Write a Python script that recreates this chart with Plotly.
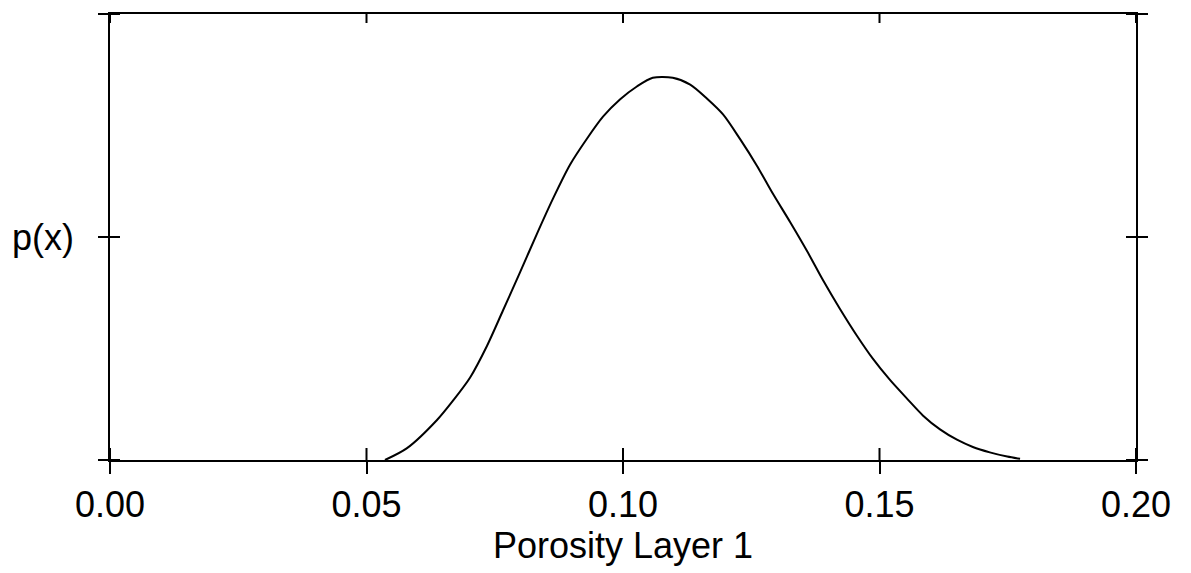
import plotly.graph_objects as go

# Data
porosity = [0.0536, 0.0579, 0.0637, 0.0669, 0.0702, 0.0735, 0.0766, 0.0799, 0.0832,
            0.0864, 0.0897, 0.0930, 0.0961, 0.0994, 0.1027, 0.1058, 0.1097, 0.1131,
            0.1164, 0.1195, 0.1228, 0.1261, 0.1292, 0.1326, 0.1359, 0.1390, 0.1423,
            0.1456, 0.1487, 0.1520, 0.1554, 0.1585, 0.1618, 0.1651, 0.1682, 0.1715,
            0.1749, 0.1774]
px_density = [0.000, 0.031, 0.104, 0.156, 0.216, 0.299, 0.391, 0.490, 0.591,
              0.685, 0.773, 0.841, 0.898, 0.943, 0.977, 1.000, 1.000, 0.982,
              0.945, 0.904, 0.840, 0.770, 0.697, 0.622, 0.546, 0.470, 0.395,
              0.325, 0.265, 0.210, 0.160, 0.116, 0.080, 0.053, 0.034, 0.020,
              0.009, 0.003]

x_ticks = [0.0, 0.05, 0.10, 0.15, 0.20]
x_tick_labels = ["0.00", "0.05", "0.10", "0.15", "0.20"]
y_max = 1.1667
y_ticks = [0.0, y_max / 2, y_max]
x_title = "Porosity Layer 1"
y_title = "p(x)"

FONT = "Liberation Sans, Arial, Helvetica, sans-serif"
fig = go.Figure()
fig.add_trace(go.Scatter(x=porosity, y=px_density, mode="lines",
                         line=dict(color="black", width=2, shape="spline", smoothing=0.8),
                         showlegend=False, hoverinfo="skip"))

# inward halves of the crossing tick marks (outer halves come from the axes)
tick_line = dict(color="black", width=2)
shapes = []
for xv in x_ticks:
    shapes.append(dict(type="line", xref="x", yref="paper", ysizemode="pixel", yanchor=0,
                       x0=xv, x1=xv, y0=0, y1=12, line=tick_line))
    shapes.append(dict(type="line", xref="x", yref="paper", ysizemode="pixel", yanchor=1,
                       x0=xv, x1=xv, y0=-9, y1=0, line=tick_line))
for yv in y_ticks:
    shapes.append(dict(type="line", xref="paper", yref="y", xsizemode="pixel", xanchor=0,
                       x0=0, x1=10, y0=yv, y1=yv, line=tick_line))
    shapes.append(dict(type="line", xref="paper", yref="y", xsizemode="pixel", xanchor=1,
                       x0=-10, x1=0, y0=yv, y1=yv, line=tick_line))

common = dict(showgrid=False, zeroline=False, tickcolor="black", tickwidth=2)
fig.update_layout(
    width=1191, height=573,
    margin=dict(l=110, r=55, t=12, b=113),
    paper_bgcolor="white", plot_bgcolor="white",
    font=dict(family=FONT, size=36, color="black"),
    xaxis=dict(range=[0, 0.2], tickvals=x_ticks, ticktext=x_tick_labels, ticks="outside",
               ticklen=12, showline=True, linewidth=2, linecolor="black", mirror=True,
               tickfont=dict(size=36),
               title=dict(text=x_title, font=dict(size=36), standoff=8), **common),
    yaxis=dict(range=[0, y_max], tickvals=y_ticks, ticks="outside", ticklen=10,
               showticklabels=False, showline=True, linewidth=2, linecolor="black",
               mirror="ticks", **common),
    shapes=shapes,
    annotations=[dict(text=y_title, xref="paper", yref="y", x=0, y=y_max / 2,
                      xanchor="right", yanchor="middle", xshift=-34, showarrow=False,
                      font=dict(size=36, family=FONT, color="black"))],
)
fig.write_html("out.html")
